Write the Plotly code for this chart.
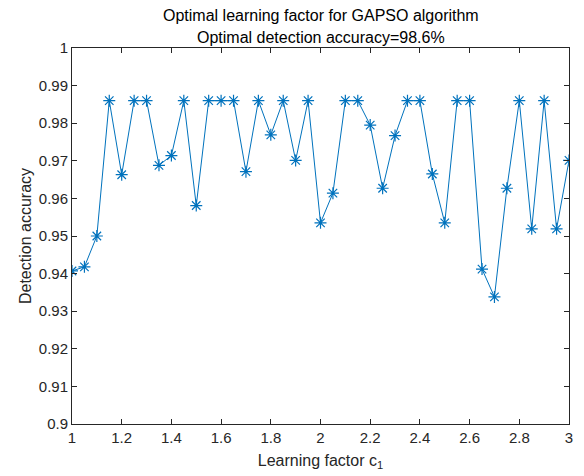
import plotly.graph_objects as go

c1 = [1.00, 1.05, 1.10, 1.15, 1.20, 1.25, 1.30, 1.35, 1.40, 1.45,
      1.50, 1.55, 1.60, 1.65, 1.70, 1.75, 1.80, 1.85, 1.90, 1.95,
      2.00, 2.05, 2.10, 2.15, 2.20, 2.25, 2.30, 2.35, 2.40, 2.45,
      2.50, 2.55, 2.60, 2.65, 2.70, 2.75, 2.80, 2.85, 2.90, 2.95, 3.00]
accuracy = [0.9407, 0.9418, 0.9500, 0.9860, 0.9663, 0.9860, 0.9860, 0.9688, 0.9714, 0.9860,
            0.9581, 0.9860, 0.9860, 0.9860, 0.9671, 0.9860, 0.9769, 0.9860, 0.9701, 0.9860,
            0.9535, 0.9614, 0.9860, 0.9860, 0.9795, 0.9627, 0.9767, 0.9860, 0.9860, 0.9665,
            0.9535, 0.9860, 0.9860, 0.9412, 0.9338, 0.9627, 0.9860, 0.9519, 0.9860, 0.9519, 0.9701]

x_ticks = [1, 1.2, 1.4, 1.6, 1.8, 2, 2.2, 2.4, 2.6, 2.8, 3]
x_tick_labels = ["1", "1.2", "1.4", "1.6", "1.8", "2", "2.2", "2.4", "2.6", "2.8", "3"]
y_ticks = [0.9, 0.91, 0.92, 0.93, 0.94, 0.95, 0.96, 0.97, 0.98, 0.99, 1.0]
y_tick_labels = ["0.9", "0.91", "0.92", "0.93", "0.94", "0.95", "0.96", "0.97", "0.98", "0.99", "1"]

title_line1 = "Optimal learning factor for GAPSO algorithm"
title_line2 = "Optimal detection accuracy=98.6%"
x_title = "Learning factor c<sub>1</sub>"
y_title = "Detection accuracy"

font_family = "Liberation Sans, Arial, sans-serif"
axis_color = "#262626"

fig = go.Figure()
fig.add_trace(go.Scatter(
    x=c1, y=accuracy, mode="lines+markers",
    line=dict(color="#0072BD", width=1),
    marker=dict(symbol="asterisk-open", size=10, color="#0072BD",
                line=dict(color="#0072BD", width=1.2)),
    showlegend=False,
))

axis_common = dict(
    showgrid=False, zeroline=False, showline=True, linecolor=axis_color, linewidth=1,
    mirror="ticks", ticks="inside", ticklen=5, tickcolor=axis_color, tickwidth=1,
    tickfont=dict(family=font_family, size=15, color="#262626"),
    automargin=False,
)

fig.update_layout(
    width=584, height=476,
    margin=dict(l=72, r=15, t=48, b=52),
    paper_bgcolor="white", plot_bgcolor="white",
    font=dict(family=font_family, color="#262626"),
    xaxis=dict(range=[1, 3], tickvals=x_ticks, ticktext=x_tick_labels,
               title=dict(text=x_title, font=dict(family=font_family, size=16, color="#262626"),
                          standoff=9),
               **axis_common),
    yaxis=dict(range=[0.9, 1.0], tickvals=y_ticks, ticktext=y_tick_labels,
               title=dict(text=y_title, font=dict(family=font_family, size=16, color="#262626"),
                          standoff=3),
               **axis_common),
)

fig.add_annotation(text=title_line1, xref="paper", yref="paper", x=0.5, y=1.0,
                   xanchor="center", yanchor="bottom", yshift=22, showarrow=False,
                   font=dict(family=font_family, size=16, color="#000000"))
fig.add_annotation(text=title_line2, xref="paper", yref="paper", x=0.5, y=1.0,
                   xanchor="center", yanchor="bottom", yshift=0, showarrow=False,
                   font=dict(family=font_family, size=16, color="#000000"))

fig.write_html("out.html")
